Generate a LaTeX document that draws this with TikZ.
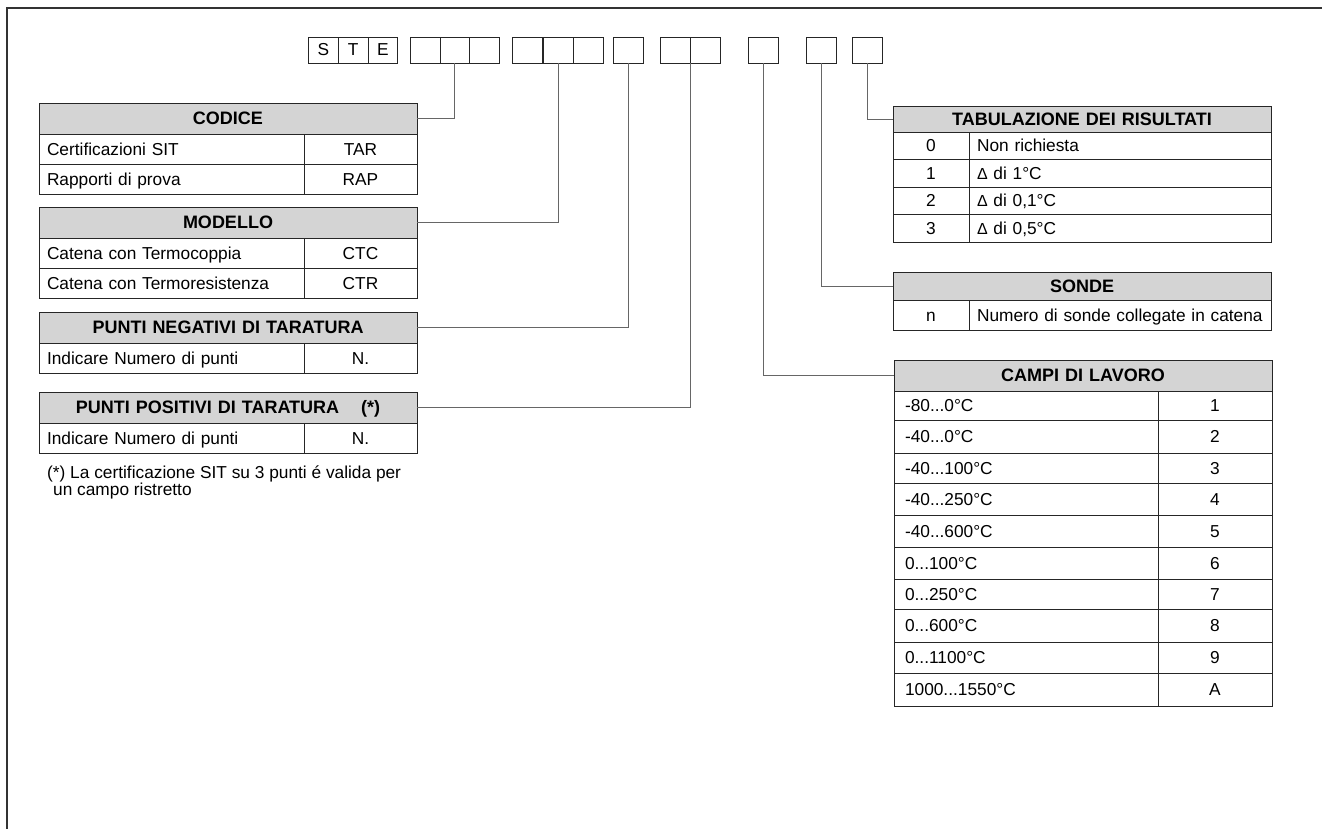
\documentclass[tikz,border=0pt]{standalone}
\usepackage{fontspec}
\setmainfont{Liberation Sans}
\newcommand{\dlt}{{\fontsize{16}{18}\selectfont Δ}}

\begin{document}
\begin{tikzpicture}[x=1pt, y=-1pt,
      frameLine/.style={draw=black!80, line width=1.6pt},
      codeBox/.style={
        draw=black!85, line width=0.9pt, anchor=north west,
        inner sep=0pt, outer sep=0pt, minimum width=29.8pt, minimum height=26pt,
        font=\fontsize{17.3}{20}\selectfont
      },
      cellBase/.style={
        draw=black!85, line width=0.9pt, anchor=north west,
        inner ysep=0pt, outer sep=0pt, font=\fontsize{17.3}{20}\selectfont,
        text height=12.5pt, text depth=0pt
      },
      cellL/.style 2 args={cellBase, align=left, inner xsep=8pt, text width=#1, minimum height=#2},
      cellC/.style 2 args={cellBase, align=center, inner xsep=0pt, text width=#1, minimum height=#2},
      headCell/.style 2 args={cellC={#1}{#2}, fill=black!17, font=\fontsize{18}{21}\selectfont\bfseries},
      link/.style={draw=black!60, line width=0.9pt},
      noteText/.style={anchor=base west, inner sep=0pt, font=\fontsize{17.3}{20}\selectfont}
    ]

      \useasboundingbox (0,0) rectangle (1322,829);

      % ---------- Cornice ----------
      \draw[frameLine] (7,829) -- (7,8) -- (1322,8);

      % ---------- Codice d'ordine ----------
      \node[codeBox] (ste1) at (308.4,37) {S};
      \node[codeBox] (ste2) at (338.2,37) {T};
      \node[codeBox] (ste3) at (368.0,37) {E};

      \node[codeBox] (cod1) at (410.2,37) {};
      \node[codeBox] (cod2) at (440.0,37) {};
      \node[codeBox] (cod3) at (469.8,37) {};

      \node[codeBox] (mod1) at (512.7,37) {};
      \node[codeBox] (mod2) at (543.3,37) {};
      \node[codeBox] (mod3) at (573.9,37) {};

      \node[codeBox] (negBox) at (613.7,37) {};

      \node[codeBox] (pos1) at (660.4,37) {};
      \node[codeBox] (pos2) at (690.2,37) {};

      \node[codeBox] (camBox) at (748.4,37) {};
      \node[codeBox] (sonBox) at (806.3,37) {};
      \node[codeBox] (tabBox) at (852.8,37) {};

      % ---------- CODICE ----------
      \node[headCell={378pt}{31pt}] (codiceHead) at (39,103) {CODICE};
      \node[cellL={249pt}{30pt}] (codiceR1a) at (39,134) {Certificazioni SIT};
      \node[cellC={113pt}{30pt}] (codiceR1b) at (304,134) {TAR};
      \node[cellL={249pt}{30pt}] (codiceR2a) at (39,164) {Rapporti di prova};
      \node[cellC={113pt}{30pt}] (codiceR2b) at (304,164) {RAP};

      % ---------- MODELLO ----------
      \node[headCell={378pt}{31pt}] (modelloHead) at (39,207) {MODELLO};
      \node[cellL={249pt}{30pt}] (modelloR1a) at (39,238) {Catena con Termocoppia};
      \node[cellC={113pt}{30pt}] (modelloR1b) at (304,238) {CTC};
      \node[cellL={249pt}{30pt}] (modelloR2a) at (39,268) {Catena con Termoresistenza};
      \node[cellC={113pt}{30pt}] (modelloR2b) at (304,268) {CTR};

      % ---------- PUNTI NEGATIVI ----------
      \node[headCell={378pt}{31pt}] (negHead) at (39,312) {PUNTI NEGATIVI DI TARATURA};
      \node[cellL={249pt}{30pt}] (negR1a) at (39,343) {Indicare Numero di punti};
      \node[cellC={113pt}{30pt}] (negR1b) at (304,343) {N.};

      % ---------- PUNTI POSITIVI ----------
      \node[headCell={378pt}{31pt}] (posHead) at (39,392) {PUNTI POSITIVI DI TARATURA\hspace{22pt}(*)};
      \node[cellL={249pt}{30pt}] (posR1a) at (39,423) {Indicare Numero di punti};
      \node[cellC={113pt}{30pt}] (posR1b) at (304,423) {N.};

      % nota
      \node[noteText] (noteA) at (47,478) {(*) La certificazione SIT su 3 punti é valida per};
      \node[noteText] (noteB) at (53,495) {un campo ristretto};

      % ---------- TABULAZIONE ----------
      \node[headCell={378pt}{26pt}] (tabHead) at (893,106) {TABULAZIONE DEI RISULTATI};
      \node[cellC={76pt}{27.5pt}] (tabR1a) at (893,132) {0};
      \node[cellL={286pt}{27.5pt}] (tabR1b) at (969,132) {Non richiesta};
      \node[cellC={76pt}{27.5pt}] (tabR2a) at (893,159.5) {1};
      \node[cellL={286pt}{27.5pt}] (tabR2b) at (969,159.5) {\dlt{} di 1°C};
      \node[cellC={76pt}{27.5pt}] (tabR3a) at (893,187) {2};
      \node[cellL={286pt}{27.5pt}] (tabR3b) at (969,187) {\dlt{} di 0,1°C};
      \node[cellC={76pt}{27.5pt}] (tabR4a) at (893,214.5) {3};
      \node[cellL={286pt}{27.5pt}] (tabR4b) at (969,214.5) {\dlt{} di 0,5°C};

      % ---------- SONDE ----------
      \node[headCell={378pt}{28pt}] (sondeHead) at (893,272) {SONDE};
      \node[cellC={76pt}{30pt}] (sondeR1a) at (893,300) {n};
      \node[cellL={286pt}{30pt}] (sondeR1b) at (969,300) {Numero di sonde collegate in catena};

      % ---------- CAMPI DI LAVORO ----------
      \node[headCell={378pt}{31pt}] (campiHead) at (894,360) {CAMPI DI LAVORO};
      \node[cellL={242pt}{29pt}, inner xsep=11pt] (campiR1a) at (894,391) {-80...0°C};
      \node[cellC={114pt}{29pt}] (campiR1b) at (1158,391) {1};
      \node[cellL={242pt}{33pt}, inner xsep=11pt] (campiR2a) at (894,420) {-40...0°C};
      \node[cellC={114pt}{33pt}] (campiR2b) at (1158,420) {2};
      \node[cellL={242pt}{30pt}, inner xsep=11pt] (campiR3a) at (894,453) {-40...100°C};
      \node[cellC={114pt}{30pt}] (campiR3b) at (1158,453) {3};
      \node[cellL={242pt}{32pt}, inner xsep=11pt] (campiR4a) at (894,483) {-40...250°C};
      \node[cellC={114pt}{32pt}] (campiR4b) at (1158,483) {4};
      \node[cellL={242pt}{32pt}, inner xsep=11pt] (campiR5a) at (894,515) {-40...600°C};
      \node[cellC={114pt}{32pt}] (campiR5b) at (1158,515) {5};
      \node[cellL={242pt}{32pt}, inner xsep=11pt] (campiR6a) at (894,547) {0...100°C};
      \node[cellC={114pt}{32pt}] (campiR6b) at (1158,547) {6};
      \node[cellL={242pt}{30pt}, inner xsep=11pt] (campiR7a) at (894,579) {0...250°C};
      \node[cellC={114pt}{30pt}] (campiR7b) at (1158,579) {7};
      \node[cellL={242pt}{33pt}, inner xsep=11pt] (campiR8a) at (894,609) {0...600°C};
      \node[cellC={114pt}{33pt}] (campiR8b) at (1158,609) {8};
      \node[cellL={242pt}{31pt}, inner xsep=11pt] (campiR9a) at (894,642) {0...1100°C};
      \node[cellC={114pt}{31pt}] (campiR9b) at (1158,642) {9};
      \node[cellL={242pt}{33pt}, inner xsep=11pt] (campiR10a) at (894,673) {1000...1550°C};
      \node[cellC={114pt}{33pt}] (campiR10b) at (1158,673) {A};

      % ---------- Collegamenti ----------
      \draw[link] (cod2.south) |- (codiceHead.east);
      \draw[link] (mod2.south) |- (modelloHead.east);
      \draw[link] (negBox.south) |- (negHead.east);
      \draw[link] (pos1.south east) |- (posHead.east);

      \draw[link] (camBox.south) |- (campiHead.west);
      \draw[link] (sonBox.south) |- (sondeHead.west);
      \draw[link] (tabBox.south) |- (tabHead.west);

    \end{tikzpicture}
\end{document}
